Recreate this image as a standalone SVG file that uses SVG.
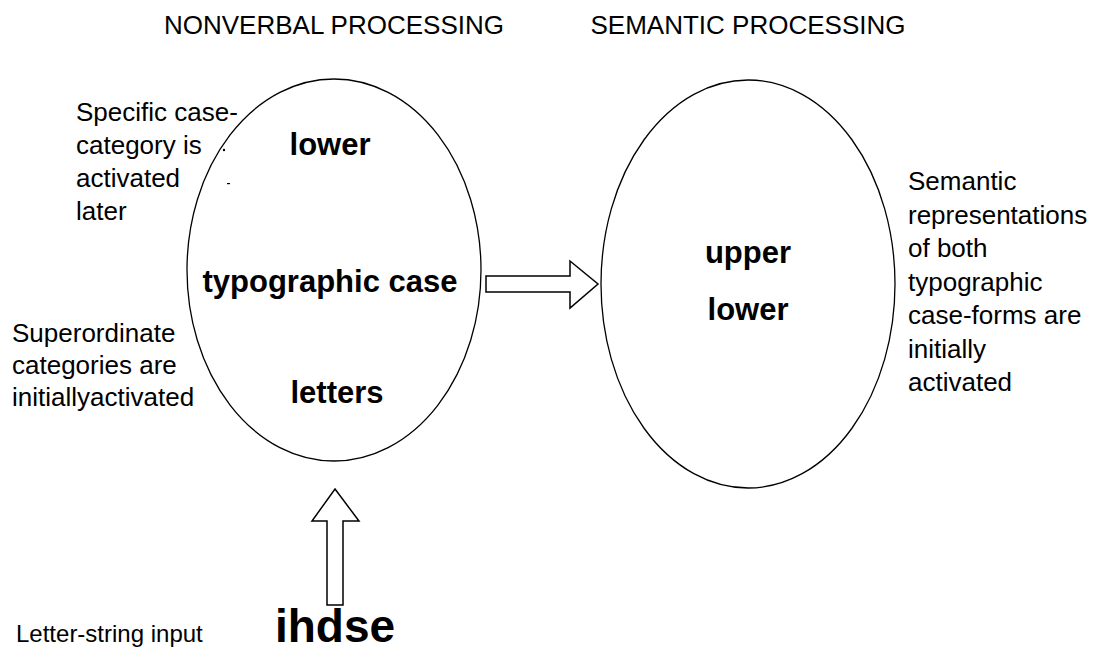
<svg xmlns="http://www.w3.org/2000/svg" width="1096" height="652" viewBox="0 0 1096 652">
<style>
text{font-family:"Liberation Sans",Arial,sans-serif;fill:#000}
.hdr{font-size:26px;text-anchor:middle}
.lbl{font-size:26px}
.inp{font-size:24px}
.b{font-size:31px;font-weight:bold;text-anchor:middle}
.big{font-size:46px;font-weight:bold;text-anchor:middle}
.node{fill:#fff;stroke:#000;stroke-width:1.3}
.arr{fill:#fff;stroke:#000;stroke-width:1.5;stroke-linejoin:miter}
.speck{fill:#000}
</style>
<rect width="1096" height="652" fill="#fff"/>
<g id="headers">
<text class="hdr" x="334" y="34">NONVERBAL PROCESSING</text>
<text class="hdr" x="748" y="34">SEMANTIC PROCESSING</text>
</g>
<g id="nonverbal">
<ellipse class="node" cx="334" cy="270" rx="147" ry="191"/>
<text class="b" x="330" y="155">lower</text>
<text class="b" x="330" y="292">typographic case</text>
<text class="b" x="337" y="403">letters</text>
</g>
<g id="semantic">
<ellipse class="node" cx="748" cy="284" rx="147" ry="204"/>
<text class="b" x="748" y="263">upper</text>
<text class="b" x="748" y="320">lower</text>
</g>
<g id="input">
<text class="inp" x="16" y="642">Letter-string input</text>
<text class="big" x="335" y="642">ihdse</text>
</g>
<g id="notes">
<text class="lbl"><tspan x="76" y="121">Specific case-</tspan><tspan x="76" y="154">category is</tspan><tspan x="76" y="187">activated</tspan><tspan x="76" y="220">later</tspan></text>
<text class="lbl"><tspan x="12" y="342">Superordinate</tspan><tspan x="12" y="374">categories are</tspan><tspan x="12" y="406">initiallyactivated</tspan></text>
<text class="lbl"><tspan x="908" y="190">Semantic</tspan><tspan x="908" y="223.5">representations</tspan><tspan x="908" y="257">of both</tspan><tspan x="908" y="290.5">typographic</tspan><tspan x="908" y="324">case-forms are</tspan><tspan x="908" y="357.5">initially</tspan><tspan x="908" y="391">activated</tspan></text>
</g>
<g id="specks">
<circle class="speck" cx="224" cy="150" r="1.2"/>
<rect class="speck" x="227" y="183" width="3" height="1.2"/>
</g>
<g id="connectors">
<path class="arr" d="M486,276 H570 V261 L598,284 L570,308 V292 H486 Z"/>
<path class="arr" d="M335,489 L359,521 H343 V605 H327 V521 H312 Z"/>
</g>
</svg>
